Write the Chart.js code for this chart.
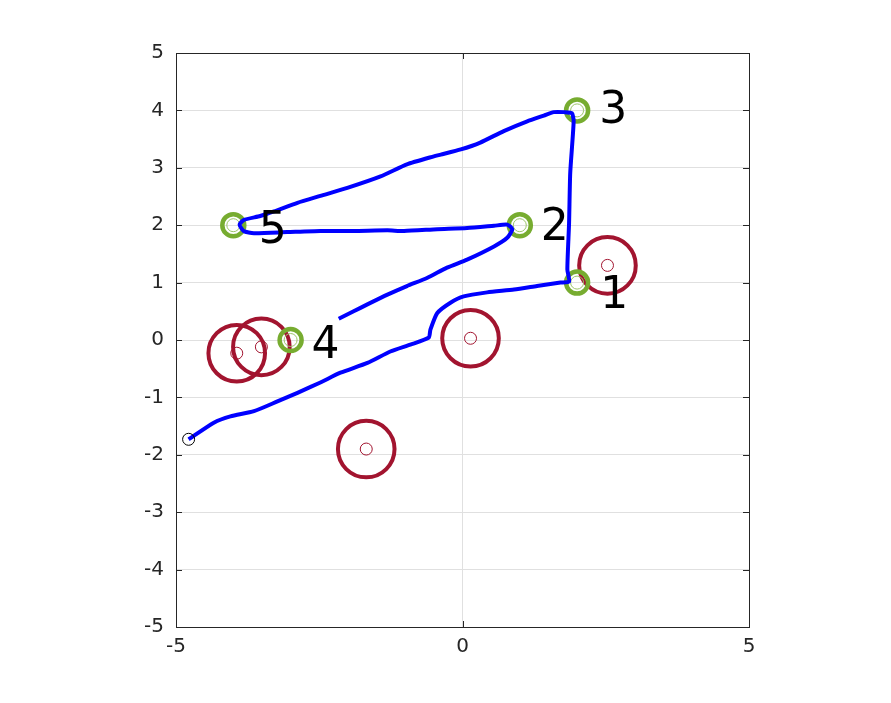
<!DOCTYPE html>
<html>
<head>
<meta charset="utf-8">
<script src="https://cdn.jsdelivr.net/npm/chart.js@4"></script>
<style>
  body{margin:0;background:#fff;}
  #wrap{width:891px;height:703px;}
</style>
</head>
<body>
<div id="wrap"><canvas id="chart" width="891" height="703"></canvas></div>
<script>
// robot path
const pathX = [-4.78,-4.34,-4.05,-3.64,-3.23,-2.88,-2.48,-2.13,-1.66,-1.26,-0.91,-0.59,-0.56,-0.44,-0.21,0.02,0.43,0.90,1.30,1.71,1.86,
  1.83,1.86,1.88,1.94,1.91,1.77,1.59,1.42,1.13,0.72,0.31,-0.03,-0.38,-0.50,-0.97,-1.43,-2.01,-2.48,-2.88,-3.29,-3.53,-3.82,-3.89,
  -3.82,-3.64,-3.06,-2.48,-1.90,-1.31,-1.02,-0.44,0.08,0.55,0.78,0.87,0.78,0.55,0.08,-0.27,-0.62,-0.97,-1.31,-1.66,-1.90,-2.16];
const pathY = [-1.73,-1.44,-1.33,-1.24,-1.07,-0.92,-0.74,-0.57,-0.40,-0.20,-0.08,0.04,0.18,0.47,0.65,0.76,0.83,0.88,0.94,1.00,1.02,
  1.23,2.04,2.91,3.81,3.95,3.97,3.97,3.91,3.81,3.64,3.44,3.32,3.23,3.20,3.06,2.85,2.65,2.51,2.39,2.24,2.16,2.09,2.01,
  1.90,1.86,1.88,1.90,1.90,1.91,1.90,1.93,1.95,1.99,2.01,1.93,1.78,1.63,1.40,1.26,1.08,0.94,0.79,0.62,0.50,0.37];

// goals
const goalX = [2, 1, 2, -3, -4];
const goalY = [1, 2, 4, 0, 2];
const goalNames = ['1','2','3','4','5'];
const labelX = [2.65, 1.61, 2.63, -2.39, -3.31];
const labelY = [0.78, 1.96, 4.00, -0.10, 1.91];

// obstacles
const obsX = [2.53, 0.14, -3.94, -3.51, -1.68];
const obsY = [1.30, 0.03, -0.23, -0.12, -1.90];

const startX = [-4.78];
const startY = [-1.73];

const xTicks = [-5, 0, 5];
const yTicks = [-5,-4,-3,-2,-1,0,1,2,3,4,5];

const pts = (xs, ys) => xs.map((x,i)=>({x:x, y:ys[i]}));

const GREEN = '#77AC30', RED = '#A2142F', AXIS = '#262626';

const frame = {
  id:'frame',
  afterDatasetsDraw(chart){
    const {ctx, chartArea:a, scales:{x,y}} = chart;
    ctx.save();
    // labels next to goals
    ctx.fillStyle = '#000';
    ctx.font = '44px "DejaVu Sans"';
    ctx.textAlign = 'center';
    ctx.textBaseline = 'middle';
    goalNames.forEach((t,i)=>{
      ctx.fillText(t, x.getPixelForValue(labelX[i]), y.getPixelForValue(labelY[i]) + 1);
    });
    // box + inward ticks
    ctx.strokeStyle = AXIS;
    ctx.lineWidth = 1;
    ctx.strokeRect(a.left+0.5, a.top+0.5, a.right-a.left, a.bottom-a.top);
    ctx.beginPath();
    xTicks.forEach(v=>{
      const px = Math.round(x.getPixelForValue(v))+0.5;
      ctx.moveTo(px, a.bottom); ctx.lineTo(px, a.bottom-6);
      ctx.moveTo(px, a.top); ctx.lineTo(px, a.top+6);
    });
    yTicks.forEach(v=>{
      const py = Math.round(y.getPixelForValue(v))+0.5;
      ctx.moveTo(a.left, py); ctx.lineTo(a.left+6, py);
      ctx.moveTo(a.right, py); ctx.lineTo(a.right-6, py);
    });
    ctx.stroke();
    ctx.restore();
  }
};

new Chart(document.getElementById('chart'), {
  type:'scatter',
  data:{
    datasets:[
      {data:pts(pathX,pathY), showLine:true, borderColor:'#0000FF', borderWidth:4, pointRadius:0, tension:0.2, order:1},
      {data:pts(startX,startY), pointRadius:6, borderWidth:1, borderColor:'#000', backgroundColor:'rgba(0,0,0,0)', order:0},
      {data:pts(goalX,goalY), pointRadius:11, borderWidth:4.5, borderColor:GREEN, backgroundColor:'rgba(0,0,0,0)', order:2},
      {data:pts(goalX,goalY), pointRadius:6.5, borderWidth:1, borderColor:'#9cc46a', backgroundColor:'rgba(0,0,0,0)', order:2},
      {data:pts(obsX,obsY), pointRadius:28.3, borderWidth:4, borderColor:RED, backgroundColor:'rgba(0,0,0,0)', order:3},
      {data:pts(obsX,obsY), pointRadius:6, borderWidth:1, borderColor:RED, backgroundColor:'rgba(0,0,0,0)', order:3}
    ]
  },
  options:{
    responsive:false,
    animation:false,
    events:[],
    layout:{padding:{left:0, top:53, right:142, bottom:0}},
    plugins:{legend:{display:false}, tooltip:{enabled:false}},
    scales:{
      x:{
        min:-5, max:5,
        afterBuildTicks:s=>{ s.ticks = xTicks.map(v=>({value:v})); },
        afterFit:s=>{ s.height = 76; },
        grid:{color:'#e0e0e0', drawTicks:false},
        border:{display:true, color:AXIS},
        ticks:{color:AXIS, font:{family:'DejaVu Sans', size:20}, padding:8, maxRotation:0}
      },
      y:{
        min:-5, max:5,
        afterBuildTicks:s=>{ s.ticks = yTicks.map(v=>({value:v})); },
        afterFit:s=>{ s.width = 176; },
        grid:{color:'#e0e0e0', drawTicks:false},
        border:{display:true, color:AXIS},
        ticks:{color:AXIS, font:{family:'DejaVu Sans', size:20}, padding:12}
      }
    }
  },
  plugins:[frame]
});
</script>
</body>
</html>
